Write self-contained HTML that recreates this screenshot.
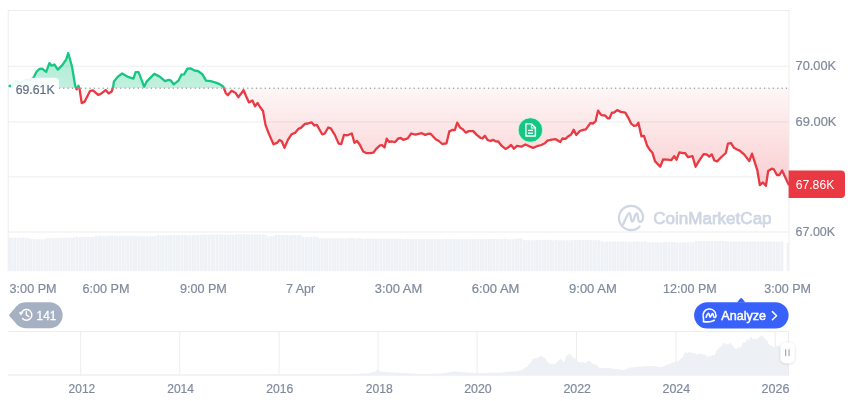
<!DOCTYPE html>
<html><head><meta charset="utf-8"><style>
html,body{margin:0;padding:0;background:#fff;width:860px;height:401px;overflow:hidden}
svg{position:absolute;left:0;top:0;will-change:transform}
text{font-family:"Liberation Sans", sans-serif}
</style></head><body>
<svg width="860" height="401" viewBox="0 0 860 401">
<defs>
<linearGradient id="gg" gradientUnits="userSpaceOnUse" x1="0" y1="50" x2="0" y2="88.2">
<stop offset="0" stop-color="#16c784" stop-opacity="0.36"/>
<stop offset="1" stop-color="#16c784" stop-opacity="0.26"/>
</linearGradient>
<linearGradient id="rg" gradientUnits="userSpaceOnUse" x1="0" y1="88.2" x2="0" y2="186">
<stop offset="0" stop-color="#ea3943" stop-opacity="0.045"/>
<stop offset="1" stop-color="#ea3943" stop-opacity="0.25"/>
</linearGradient>
<clipPath id="above"><rect x="0" y="0" width="860" height="88.2"/></clipPath>
<clipPath id="below"><rect x="0" y="88.2" width="860" height="300"/></clipPath>
</defs>
<!-- grid -->
<g fill="#ededee">
<rect x="8" y="10" width="781" height="1"/>
<rect x="7.7" y="10" width="1" height="261"/>
<rect x="788.5" y="10" width="1" height="261"/>
<rect x="8" y="65.7" width="781" height="1"/>
<rect x="8" y="121.4" width="781" height="1"/>
<rect x="8" y="176.4" width="781" height="1"/>
<rect x="8" y="231.5" width="781" height="1"/>
</g>
<!-- volume -->
<g fill="#eef1f5">
<rect x="8.60" y="237.64" width="2.4" height="33.56"/>
<rect x="11.29" y="237.83" width="2.4" height="33.37"/>
<rect x="13.98" y="237.72" width="2.4" height="33.48"/>
<rect x="16.67" y="237.86" width="2.4" height="33.34"/>
<rect x="19.36" y="237.88" width="2.4" height="33.32"/>
<rect x="22.05" y="237.54" width="2.4" height="33.66"/>
<rect x="24.75" y="237.51" width="2.4" height="33.69"/>
<rect x="27.44" y="238.00" width="2.4" height="33.20"/>
<rect x="30.13" y="239.06" width="2.4" height="32.14"/>
<rect x="32.82" y="239.04" width="2.4" height="32.16"/>
<rect x="35.51" y="239.50" width="2.4" height="31.70"/>
<rect x="38.20" y="239.18" width="2.4" height="32.02"/>
<rect x="40.89" y="239.40" width="2.4" height="31.80"/>
<rect x="43.58" y="239.19" width="2.4" height="32.01"/>
<rect x="46.27" y="238.28" width="2.4" height="32.92"/>
<rect x="48.96" y="237.99" width="2.4" height="33.21"/>
<rect x="51.66" y="238.28" width="2.4" height="32.92"/>
<rect x="54.35" y="238.02" width="2.4" height="33.18"/>
<rect x="57.04" y="237.81" width="2.4" height="33.39"/>
<rect x="59.73" y="237.94" width="2.4" height="33.26"/>
<rect x="62.42" y="237.90" width="2.4" height="33.30"/>
<rect x="65.11" y="237.54" width="2.4" height="33.66"/>
<rect x="67.80" y="237.95" width="2.4" height="33.25"/>
<rect x="70.49" y="237.85" width="2.4" height="33.35"/>
<rect x="73.18" y="236.68" width="2.4" height="34.52"/>
<rect x="75.87" y="236.52" width="2.4" height="34.68"/>
<rect x="78.57" y="237.02" width="2.4" height="34.18"/>
<rect x="81.26" y="236.78" width="2.4" height="34.42"/>
<rect x="83.95" y="236.93" width="2.4" height="34.27"/>
<rect x="86.64" y="237.03" width="2.4" height="34.17"/>
<rect x="89.33" y="236.93" width="2.4" height="34.27"/>
<rect x="92.02" y="237.05" width="2.4" height="34.15"/>
<rect x="94.71" y="235.84" width="2.4" height="35.36"/>
<rect x="97.40" y="236.08" width="2.4" height="35.12"/>
<rect x="100.09" y="235.87" width="2.4" height="35.33"/>
<rect x="102.78" y="236.16" width="2.4" height="35.04"/>
<rect x="105.47" y="236.13" width="2.4" height="35.07"/>
<rect x="108.17" y="235.66" width="2.4" height="35.54"/>
<rect x="110.86" y="235.68" width="2.4" height="35.52"/>
<rect x="113.55" y="235.73" width="2.4" height="35.47"/>
<rect x="116.24" y="236.18" width="2.4" height="35.02"/>
<rect x="118.93" y="235.86" width="2.4" height="35.34"/>
<rect x="121.62" y="235.98" width="2.4" height="35.22"/>
<rect x="124.31" y="235.78" width="2.4" height="35.42"/>
<rect x="127.00" y="235.90" width="2.4" height="35.30"/>
<rect x="129.69" y="235.83" width="2.4" height="35.37"/>
<rect x="132.38" y="235.81" width="2.4" height="35.39"/>
<rect x="135.08" y="235.95" width="2.4" height="35.25"/>
<rect x="137.77" y="235.95" width="2.4" height="35.25"/>
<rect x="140.46" y="236.14" width="2.4" height="35.06"/>
<rect x="143.15" y="236.01" width="2.4" height="35.19"/>
<rect x="145.84" y="236.16" width="2.4" height="35.04"/>
<rect x="148.53" y="236.11" width="2.4" height="35.09"/>
<rect x="151.22" y="236.19" width="2.4" height="35.01"/>
<rect x="153.91" y="236.00" width="2.4" height="35.20"/>
<rect x="156.60" y="234.80" width="2.4" height="36.40"/>
<rect x="159.29" y="235.22" width="2.4" height="35.98"/>
<rect x="161.99" y="235.28" width="2.4" height="35.92"/>
<rect x="164.68" y="235.24" width="2.4" height="35.96"/>
<rect x="167.37" y="235.04" width="2.4" height="36.16"/>
<rect x="170.06" y="235.13" width="2.4" height="36.07"/>
<rect x="172.75" y="234.83" width="2.4" height="36.37"/>
<rect x="175.44" y="235.20" width="2.4" height="36.00"/>
<rect x="178.13" y="235.04" width="2.4" height="36.16"/>
<rect x="180.82" y="234.87" width="2.4" height="36.33"/>
<rect x="183.51" y="234.74" width="2.4" height="36.46"/>
<rect x="186.20" y="235.21" width="2.4" height="35.99"/>
<rect x="188.90" y="235.29" width="2.4" height="35.91"/>
<rect x="191.59" y="234.75" width="2.4" height="36.45"/>
<rect x="194.28" y="235.18" width="2.4" height="36.02"/>
<rect x="196.97" y="234.95" width="2.4" height="36.25"/>
<rect x="199.66" y="234.79" width="2.4" height="36.41"/>
<rect x="202.35" y="234.38" width="2.4" height="36.82"/>
<rect x="205.04" y="234.66" width="2.4" height="36.54"/>
<rect x="207.73" y="234.72" width="2.4" height="36.48"/>
<rect x="210.42" y="234.23" width="2.4" height="36.97"/>
<rect x="213.11" y="234.57" width="2.4" height="36.63"/>
<rect x="215.80" y="234.23" width="2.4" height="36.97"/>
<rect x="218.50" y="234.63" width="2.4" height="36.57"/>
<rect x="221.19" y="234.40" width="2.4" height="36.80"/>
<rect x="223.88" y="234.73" width="2.4" height="36.47"/>
<rect x="226.57" y="234.79" width="2.4" height="36.41"/>
<rect x="229.26" y="234.50" width="2.4" height="36.70"/>
<rect x="231.95" y="234.80" width="2.4" height="36.40"/>
<rect x="234.64" y="234.39" width="2.4" height="36.81"/>
<rect x="237.33" y="234.25" width="2.4" height="36.95"/>
<rect x="240.02" y="234.56" width="2.4" height="36.64"/>
<rect x="242.71" y="234.22" width="2.4" height="36.98"/>
<rect x="245.41" y="234.32" width="2.4" height="36.88"/>
<rect x="248.10" y="234.44" width="2.4" height="36.76"/>
<rect x="250.79" y="234.57" width="2.4" height="36.63"/>
<rect x="253.48" y="234.29" width="2.4" height="36.91"/>
<rect x="256.17" y="234.23" width="2.4" height="36.97"/>
<rect x="258.86" y="234.72" width="2.4" height="36.48"/>
<rect x="261.55" y="234.39" width="2.4" height="36.81"/>
<rect x="264.24" y="234.78" width="2.4" height="36.42"/>
<rect x="266.93" y="236.34" width="2.4" height="34.86"/>
<rect x="269.62" y="236.03" width="2.4" height="35.17"/>
<rect x="272.32" y="236.08" width="2.4" height="35.12"/>
<rect x="275.01" y="235.01" width="2.4" height="36.19"/>
<rect x="277.70" y="235.09" width="2.4" height="36.11"/>
<rect x="280.39" y="235.06" width="2.4" height="36.14"/>
<rect x="283.08" y="235.04" width="2.4" height="36.16"/>
<rect x="285.77" y="235.07" width="2.4" height="36.13"/>
<rect x="288.46" y="235.26" width="2.4" height="35.94"/>
<rect x="291.15" y="235.00" width="2.4" height="36.20"/>
<rect x="293.84" y="234.96" width="2.4" height="36.24"/>
<rect x="296.53" y="235.13" width="2.4" height="36.07"/>
<rect x="299.23" y="234.84" width="2.4" height="36.36"/>
<rect x="301.92" y="236.68" width="2.4" height="34.52"/>
<rect x="304.61" y="237.09" width="2.4" height="34.11"/>
<rect x="307.30" y="236.81" width="2.4" height="34.39"/>
<rect x="309.99" y="236.83" width="2.4" height="34.37"/>
<rect x="312.68" y="236.51" width="2.4" height="34.69"/>
<rect x="315.37" y="236.75" width="2.4" height="34.45"/>
<rect x="318.06" y="238.25" width="2.4" height="32.95"/>
<rect x="320.75" y="237.91" width="2.4" height="33.29"/>
<rect x="323.44" y="238.27" width="2.4" height="32.93"/>
<rect x="326.13" y="238.28" width="2.4" height="32.92"/>
<rect x="328.83" y="237.94" width="2.4" height="33.26"/>
<rect x="331.52" y="238.28" width="2.4" height="32.92"/>
<rect x="334.21" y="238.18" width="2.4" height="33.02"/>
<rect x="336.90" y="238.31" width="2.4" height="32.89"/>
<rect x="339.59" y="238.11" width="2.4" height="33.09"/>
<rect x="342.28" y="238.32" width="2.4" height="32.88"/>
<rect x="344.97" y="238.34" width="2.4" height="32.86"/>
<rect x="347.66" y="237.91" width="2.4" height="33.29"/>
<rect x="350.35" y="237.94" width="2.4" height="33.26"/>
<rect x="353.04" y="238.31" width="2.4" height="32.89"/>
<rect x="355.74" y="238.48" width="2.4" height="32.72"/>
<rect x="358.43" y="238.05" width="2.4" height="33.15"/>
<rect x="361.12" y="238.67" width="2.4" height="32.53"/>
<rect x="363.81" y="238.76" width="2.4" height="32.44"/>
<rect x="366.50" y="238.59" width="2.4" height="32.61"/>
<rect x="369.19" y="238.62" width="2.4" height="32.58"/>
<rect x="371.88" y="238.59" width="2.4" height="32.61"/>
<rect x="374.57" y="238.62" width="2.4" height="32.58"/>
<rect x="377.26" y="238.76" width="2.4" height="32.44"/>
<rect x="379.95" y="238.58" width="2.4" height="32.62"/>
<rect x="382.65" y="238.63" width="2.4" height="32.57"/>
<rect x="385.34" y="238.86" width="2.4" height="32.34"/>
<rect x="388.03" y="238.42" width="2.4" height="32.78"/>
<rect x="390.72" y="238.74" width="2.4" height="32.46"/>
<rect x="393.41" y="238.84" width="2.4" height="32.36"/>
<rect x="396.10" y="238.59" width="2.4" height="32.61"/>
<rect x="398.79" y="238.53" width="2.4" height="32.67"/>
<rect x="401.48" y="239.18" width="2.4" height="32.02"/>
<rect x="404.17" y="238.84" width="2.4" height="32.36"/>
<rect x="406.86" y="238.81" width="2.4" height="32.39"/>
<rect x="409.55" y="238.96" width="2.4" height="32.24"/>
<rect x="412.25" y="239.12" width="2.4" height="32.08"/>
<rect x="414.94" y="238.76" width="2.4" height="32.44"/>
<rect x="417.63" y="238.89" width="2.4" height="32.31"/>
<rect x="420.32" y="238.90" width="2.4" height="32.30"/>
<rect x="423.01" y="239.20" width="2.4" height="32.00"/>
<rect x="425.70" y="238.96" width="2.4" height="32.24"/>
<rect x="428.39" y="239.21" width="2.4" height="31.99"/>
<rect x="431.08" y="238.80" width="2.4" height="32.40"/>
<rect x="433.77" y="238.90" width="2.4" height="32.30"/>
<rect x="436.46" y="239.09" width="2.4" height="32.11"/>
<rect x="439.16" y="239.23" width="2.4" height="31.97"/>
<rect x="441.85" y="238.97" width="2.4" height="32.23"/>
<rect x="444.54" y="238.84" width="2.4" height="32.36"/>
<rect x="447.23" y="238.77" width="2.4" height="32.43"/>
<rect x="449.92" y="239.02" width="2.4" height="32.18"/>
<rect x="452.61" y="238.81" width="2.4" height="32.39"/>
<rect x="455.30" y="239.18" width="2.4" height="32.02"/>
<rect x="457.99" y="239.20" width="2.4" height="32.00"/>
<rect x="460.68" y="238.81" width="2.4" height="32.39"/>
<rect x="463.37" y="238.87" width="2.4" height="32.33"/>
<rect x="466.07" y="239.18" width="2.4" height="32.02"/>
<rect x="468.76" y="239.09" width="2.4" height="32.11"/>
<rect x="471.45" y="239.18" width="2.4" height="32.02"/>
<rect x="474.14" y="238.91" width="2.4" height="32.29"/>
<rect x="476.83" y="238.78" width="2.4" height="32.42"/>
<rect x="479.52" y="238.88" width="2.4" height="32.32"/>
<rect x="482.21" y="239.18" width="2.4" height="32.02"/>
<rect x="484.90" y="238.86" width="2.4" height="32.34"/>
<rect x="487.59" y="238.91" width="2.4" height="32.29"/>
<rect x="490.28" y="238.95" width="2.4" height="32.25"/>
<rect x="492.98" y="238.95" width="2.4" height="32.25"/>
<rect x="495.67" y="238.95" width="2.4" height="32.25"/>
<rect x="498.36" y="239.25" width="2.4" height="31.95"/>
<rect x="501.05" y="238.79" width="2.4" height="32.41"/>
<rect x="503.74" y="238.70" width="2.4" height="32.50"/>
<rect x="506.43" y="239.27" width="2.4" height="31.93"/>
<rect x="509.12" y="239.23" width="2.4" height="31.97"/>
<rect x="511.81" y="239.29" width="2.4" height="31.91"/>
<rect x="514.50" y="238.96" width="2.4" height="32.24"/>
<rect x="517.19" y="238.27" width="2.4" height="32.93"/>
<rect x="519.88" y="238.26" width="2.4" height="32.94"/>
<rect x="522.58" y="239.93" width="2.4" height="31.27"/>
<rect x="525.27" y="240.25" width="2.4" height="30.95"/>
<rect x="527.96" y="240.30" width="2.4" height="30.90"/>
<rect x="530.65" y="240.20" width="2.4" height="31.00"/>
<rect x="533.34" y="240.11" width="2.4" height="31.09"/>
<rect x="536.03" y="239.97" width="2.4" height="31.23"/>
<rect x="538.72" y="240.00" width="2.4" height="31.20"/>
<rect x="541.41" y="239.94" width="2.4" height="31.26"/>
<rect x="544.10" y="239.84" width="2.4" height="31.36"/>
<rect x="546.79" y="240.15" width="2.4" height="31.05"/>
<rect x="549.49" y="239.97" width="2.4" height="31.23"/>
<rect x="552.18" y="240.29" width="2.4" height="30.91"/>
<rect x="554.87" y="239.83" width="2.4" height="31.37"/>
<rect x="557.56" y="240.34" width="2.4" height="30.86"/>
<rect x="560.25" y="240.22" width="2.4" height="30.98"/>
<rect x="562.94" y="240.35" width="2.4" height="30.85"/>
<rect x="565.63" y="240.34" width="2.4" height="30.86"/>
<rect x="568.32" y="240.34" width="2.4" height="30.86"/>
<rect x="571.01" y="240.15" width="2.4" height="31.05"/>
<rect x="573.70" y="239.81" width="2.4" height="31.39"/>
<rect x="576.40" y="240.25" width="2.4" height="30.95"/>
<rect x="579.09" y="239.90" width="2.4" height="31.30"/>
<rect x="581.78" y="239.98" width="2.4" height="31.22"/>
<rect x="584.47" y="240.20" width="2.4" height="31.00"/>
<rect x="587.16" y="240.11" width="2.4" height="31.09"/>
<rect x="589.85" y="240.05" width="2.4" height="31.15"/>
<rect x="592.54" y="240.36" width="2.4" height="30.84"/>
<rect x="595.23" y="240.17" width="2.4" height="31.03"/>
<rect x="597.92" y="240.00" width="2.4" height="31.20"/>
<rect x="600.61" y="241.35" width="2.4" height="29.85"/>
<rect x="603.30" y="241.72" width="2.4" height="29.48"/>
<rect x="606.00" y="241.49" width="2.4" height="29.71"/>
<rect x="608.69" y="241.67" width="2.4" height="29.53"/>
<rect x="611.38" y="241.41" width="2.4" height="29.79"/>
<rect x="614.07" y="241.32" width="2.4" height="29.88"/>
<rect x="616.76" y="241.52" width="2.4" height="29.68"/>
<rect x="619.45" y="241.69" width="2.4" height="29.51"/>
<rect x="622.14" y="241.30" width="2.4" height="29.90"/>
<rect x="624.83" y="241.68" width="2.4" height="29.52"/>
<rect x="627.52" y="241.75" width="2.4" height="29.45"/>
<rect x="630.21" y="241.68" width="2.4" height="29.52"/>
<rect x="632.91" y="241.69" width="2.4" height="29.51"/>
<rect x="635.60" y="241.20" width="2.4" height="30.00"/>
<rect x="638.29" y="241.58" width="2.4" height="29.62"/>
<rect x="640.98" y="241.72" width="2.4" height="29.48"/>
<rect x="643.67" y="241.23" width="2.4" height="29.97"/>
<rect x="646.36" y="242.26" width="2.4" height="28.94"/>
<rect x="649.05" y="242.26" width="2.4" height="28.94"/>
<rect x="651.74" y="242.42" width="2.4" height="28.78"/>
<rect x="654.43" y="242.35" width="2.4" height="28.85"/>
<rect x="657.12" y="242.38" width="2.4" height="28.82"/>
<rect x="659.82" y="242.57" width="2.4" height="28.63"/>
<rect x="662.51" y="242.10" width="2.4" height="29.10"/>
<rect x="665.20" y="242.13" width="2.4" height="29.07"/>
<rect x="667.89" y="242.18" width="2.4" height="29.02"/>
<rect x="670.58" y="242.17" width="2.4" height="29.03"/>
<rect x="673.27" y="242.14" width="2.4" height="29.06"/>
<rect x="675.96" y="242.68" width="2.4" height="28.52"/>
<rect x="678.65" y="242.61" width="2.4" height="28.59"/>
<rect x="681.34" y="242.15" width="2.4" height="29.05"/>
<rect x="684.03" y="242.40" width="2.4" height="28.80"/>
<rect x="686.73" y="242.29" width="2.4" height="28.91"/>
<rect x="689.42" y="242.29" width="2.4" height="28.91"/>
<rect x="692.11" y="242.31" width="2.4" height="28.89"/>
<rect x="694.80" y="241.09" width="2.4" height="30.11"/>
<rect x="697.49" y="241.05" width="2.4" height="30.15"/>
<rect x="700.18" y="240.92" width="2.4" height="30.28"/>
<rect x="702.87" y="240.81" width="2.4" height="30.39"/>
<rect x="705.56" y="240.90" width="2.4" height="30.30"/>
<rect x="708.25" y="240.77" width="2.4" height="30.43"/>
<rect x="710.94" y="241.03" width="2.4" height="30.17"/>
<rect x="713.63" y="241.13" width="2.4" height="30.07"/>
<rect x="716.33" y="240.93" width="2.4" height="30.27"/>
<rect x="719.02" y="240.75" width="2.4" height="30.45"/>
<rect x="721.71" y="240.81" width="2.4" height="30.39"/>
<rect x="724.40" y="240.92" width="2.4" height="30.28"/>
<rect x="727.09" y="241.56" width="2.4" height="29.64"/>
<rect x="729.78" y="241.67" width="2.4" height="29.53"/>
<rect x="732.47" y="241.43" width="2.4" height="29.77"/>
<rect x="735.16" y="241.68" width="2.4" height="29.52"/>
<rect x="737.85" y="241.57" width="2.4" height="29.63"/>
<rect x="740.54" y="241.46" width="2.4" height="29.74"/>
<rect x="743.24" y="241.42" width="2.4" height="29.78"/>
<rect x="745.93" y="241.50" width="2.4" height="29.70"/>
<rect x="748.62" y="241.62" width="2.4" height="29.58"/>
<rect x="751.31" y="241.45" width="2.4" height="29.75"/>
<rect x="754.00" y="241.62" width="2.4" height="29.58"/>
<rect x="756.69" y="241.48" width="2.4" height="29.72"/>
<rect x="759.38" y="241.35" width="2.4" height="29.85"/>
<rect x="762.07" y="241.52" width="2.4" height="29.68"/>
<rect x="764.76" y="241.62" width="2.4" height="29.58"/>
<rect x="767.45" y="241.24" width="2.4" height="29.96"/>
<rect x="770.15" y="241.45" width="2.4" height="29.75"/>
<rect x="772.84" y="241.46" width="2.4" height="29.74"/>
<rect x="775.53" y="241.73" width="2.4" height="29.47"/>
<rect x="778.22" y="241.76" width="2.4" height="29.44"/>
<rect x="780.91" y="241.42" width="2.4" height="29.78"/>
<rect x="786.6" y="243" width="2" height="28.2"/>
</g>
<!-- areas -->
<path d="M9.6,86.0 L11.5,85.6 L16.4,81.2 L20.3,83.2 L24.1,81.0 L26.8,79.6 L29.6,80.4 L32.9,78.2 L33.7,77.4 L36.5,71.8 L39.3,69.0 L42.1,68.7 L46.2,71.8 L49.4,63.1 L51.6,65.7 L54.4,64.5 L57.8,69.6 L62.3,65.1 L66.2,59.5 L68.2,53.0 L72.0,66.5 L75.2,86.0 L76.6,89.4 L78.4,85.8 L79.5,88.4 L81.7,103.1 L84.7,101.6 L89.9,91.2 L92.9,90.4 L98.2,94.9 L100.4,94.2 L105.7,90.1 L108.7,93.4 L111.6,91.6 L113.1,87.4 L113.9,81.4 L117.6,76.9 L122.1,73.5 L128.1,76.9 L133.4,78.7 L135.6,72.2 L138.6,72.2 L144.1,86.7 L146.8,81.4 L154.3,73.9 L159.7,76.6 L165.0,81.1 L168.7,79.9 L171.0,80.7 L173.7,84.4 L178.4,80.7 L181.4,74.7 L184.1,74.3 L187.4,68.7 L190.4,68.3 L194.9,70.7 L197.9,71.0 L202.4,74.3 L206.1,80.7 L210.6,81.1 L215.9,82.6 L219.6,84.1 L223.4,86.7 L225.6,92.7 L227.8,95.2 L231.6,90.7 L235.3,92.7 L238.3,97.2 L243.6,90.2 L246.0,96.0 L249.0,102.4 L252.4,100.4 L255.0,106.3 L257.6,103.0 L260.0,107.0 L263.0,111.0 L265.5,124.9 L268.9,133.9 L273.5,144.3 L276.9,142.9 L279.5,139.9 L281.9,141.5 L284.5,147.9 L287.9,139.9 L291.5,134.3 L294.9,132.9 L298.3,128.9 L300.9,127.9 L304.9,123.9 L307.9,123.5 L311.5,122.3 L314.3,125.5 L316.8,124.9 L322.2,134.3 L324.8,133.5 L328.2,127.5 L330.8,128.3 L334.8,134.9 L338.7,143.6 L341.3,144.0 L344.0,134.9 L347.5,135.3 L351.8,133.5 L354.4,142.8 L357.0,141.0 L359.7,144.5 L363.2,151.5 L366.6,153.2 L370.1,153.2 L373.3,152.7 L376.2,148.9 L379.7,145.7 L382.0,145.0 L384.5,147.5 L386.7,138.7 L389.3,141.9 L392.0,141.5 L394.9,142.2 L398.4,138.4 L400.7,138.0 L403.3,139.8 L407.7,138.4 L411.2,133.5 L415.5,134.6 L421.6,133.2 L425.3,134.9 L428.4,133.7 L430.8,134.0 L435.7,139.3 L438.8,141.0 L442.3,144.0 L446.5,143.3 L449.3,131.4 L452.3,130.0 L454.9,130.0 L457.2,122.7 L460.1,127.6 L462.8,129.3 L465.7,132.6 L468.9,131.1 L473.2,131.1 L476.7,134.9 L480.7,138.0 L482.5,138.4 L484.9,135.8 L487.7,140.1 L490.7,141.0 L493.0,139.8 L495.9,141.4 L498.2,141.5 L502.0,146.2 L505.5,148.9 L508.1,147.5 L511.1,145.0 L514.0,148.7 L517.0,145.8 L521.3,146.7 L525.4,144.5 L529.2,146.2 L533.0,147.9 L537.0,146.2 L541.4,145.0 L544.9,143.2 L547.5,140.6 L551.9,139.7 L555.7,139.2 L560.3,142.0 L562.4,138.5 L565.5,138.9 L568.5,136.2 L571.1,134.5 L573.7,129.8 L576.3,135.0 L579.8,131.0 L583.3,129.8 L585.9,129.3 L590.3,123.2 L592.9,123.5 L595.5,121.4 L598.1,110.6 L600.7,114.4 L602.6,115.4 L604.9,115.4 L607.9,118.3 L609.6,118.3 L611.9,112.6 L614.0,112.6 L617.1,110.1 L620.9,111.9 L625.3,112.6 L627.9,117.1 L631.1,123.6 L634.0,125.8 L636.6,125.3 L638.4,122.7 L641.4,136.3 L644.0,135.8 L647.1,145.7 L649.7,149.7 L652.4,152.7 L655.0,161.1 L660.2,166.7 L663.2,159.3 L667.2,159.7 L671.2,160.2 L674.2,156.2 L676.4,159.7 L679.4,152.4 L682.9,153.2 L685.2,153.2 L688.1,157.2 L692.5,156.2 L695.6,166.8 L698.7,161.4 L703.6,154.1 L706.6,154.4 L709.2,156.5 L711.8,154.4 L714.4,160.5 L717.1,161.4 L721.4,157.0 L725.8,153.0 L728.0,143.6 L731.0,143.1 L734.0,147.8 L737.1,149.5 L739.7,150.6 L744.1,154.4 L749.3,161.1 L752.0,153.6 L757.2,169.8 L759.8,185.0 L762.9,182.4 L765.9,185.8 L768.2,171.0 L771.7,168.7 L773.8,169.3 L776.9,175.0 L779.4,175.0 L782.1,170.5 L788.6,184.4 L788.6,88.2 L9.6,88.2 Z" fill="url(#gg)" clip-path="url(#above)"/>
<path d="M9.6,86.0 L11.5,85.6 L16.4,81.2 L20.3,83.2 L24.1,81.0 L26.8,79.6 L29.6,80.4 L32.9,78.2 L33.7,77.4 L36.5,71.8 L39.3,69.0 L42.1,68.7 L46.2,71.8 L49.4,63.1 L51.6,65.7 L54.4,64.5 L57.8,69.6 L62.3,65.1 L66.2,59.5 L68.2,53.0 L72.0,66.5 L75.2,86.0 L76.6,89.4 L78.4,85.8 L79.5,88.4 L81.7,103.1 L84.7,101.6 L89.9,91.2 L92.9,90.4 L98.2,94.9 L100.4,94.2 L105.7,90.1 L108.7,93.4 L111.6,91.6 L113.1,87.4 L113.9,81.4 L117.6,76.9 L122.1,73.5 L128.1,76.9 L133.4,78.7 L135.6,72.2 L138.6,72.2 L144.1,86.7 L146.8,81.4 L154.3,73.9 L159.7,76.6 L165.0,81.1 L168.7,79.9 L171.0,80.7 L173.7,84.4 L178.4,80.7 L181.4,74.7 L184.1,74.3 L187.4,68.7 L190.4,68.3 L194.9,70.7 L197.9,71.0 L202.4,74.3 L206.1,80.7 L210.6,81.1 L215.9,82.6 L219.6,84.1 L223.4,86.7 L225.6,92.7 L227.8,95.2 L231.6,90.7 L235.3,92.7 L238.3,97.2 L243.6,90.2 L246.0,96.0 L249.0,102.4 L252.4,100.4 L255.0,106.3 L257.6,103.0 L260.0,107.0 L263.0,111.0 L265.5,124.9 L268.9,133.9 L273.5,144.3 L276.9,142.9 L279.5,139.9 L281.9,141.5 L284.5,147.9 L287.9,139.9 L291.5,134.3 L294.9,132.9 L298.3,128.9 L300.9,127.9 L304.9,123.9 L307.9,123.5 L311.5,122.3 L314.3,125.5 L316.8,124.9 L322.2,134.3 L324.8,133.5 L328.2,127.5 L330.8,128.3 L334.8,134.9 L338.7,143.6 L341.3,144.0 L344.0,134.9 L347.5,135.3 L351.8,133.5 L354.4,142.8 L357.0,141.0 L359.7,144.5 L363.2,151.5 L366.6,153.2 L370.1,153.2 L373.3,152.7 L376.2,148.9 L379.7,145.7 L382.0,145.0 L384.5,147.5 L386.7,138.7 L389.3,141.9 L392.0,141.5 L394.9,142.2 L398.4,138.4 L400.7,138.0 L403.3,139.8 L407.7,138.4 L411.2,133.5 L415.5,134.6 L421.6,133.2 L425.3,134.9 L428.4,133.7 L430.8,134.0 L435.7,139.3 L438.8,141.0 L442.3,144.0 L446.5,143.3 L449.3,131.4 L452.3,130.0 L454.9,130.0 L457.2,122.7 L460.1,127.6 L462.8,129.3 L465.7,132.6 L468.9,131.1 L473.2,131.1 L476.7,134.9 L480.7,138.0 L482.5,138.4 L484.9,135.8 L487.7,140.1 L490.7,141.0 L493.0,139.8 L495.9,141.4 L498.2,141.5 L502.0,146.2 L505.5,148.9 L508.1,147.5 L511.1,145.0 L514.0,148.7 L517.0,145.8 L521.3,146.7 L525.4,144.5 L529.2,146.2 L533.0,147.9 L537.0,146.2 L541.4,145.0 L544.9,143.2 L547.5,140.6 L551.9,139.7 L555.7,139.2 L560.3,142.0 L562.4,138.5 L565.5,138.9 L568.5,136.2 L571.1,134.5 L573.7,129.8 L576.3,135.0 L579.8,131.0 L583.3,129.8 L585.9,129.3 L590.3,123.2 L592.9,123.5 L595.5,121.4 L598.1,110.6 L600.7,114.4 L602.6,115.4 L604.9,115.4 L607.9,118.3 L609.6,118.3 L611.9,112.6 L614.0,112.6 L617.1,110.1 L620.9,111.9 L625.3,112.6 L627.9,117.1 L631.1,123.6 L634.0,125.8 L636.6,125.3 L638.4,122.7 L641.4,136.3 L644.0,135.8 L647.1,145.7 L649.7,149.7 L652.4,152.7 L655.0,161.1 L660.2,166.7 L663.2,159.3 L667.2,159.7 L671.2,160.2 L674.2,156.2 L676.4,159.7 L679.4,152.4 L682.9,153.2 L685.2,153.2 L688.1,157.2 L692.5,156.2 L695.6,166.8 L698.7,161.4 L703.6,154.1 L706.6,154.4 L709.2,156.5 L711.8,154.4 L714.4,160.5 L717.1,161.4 L721.4,157.0 L725.8,153.0 L728.0,143.6 L731.0,143.1 L734.0,147.8 L737.1,149.5 L739.7,150.6 L744.1,154.4 L749.3,161.1 L752.0,153.6 L757.2,169.8 L759.8,185.0 L762.9,182.4 L765.9,185.8 L768.2,171.0 L771.7,168.7 L773.8,169.3 L776.9,175.0 L779.4,175.0 L782.1,170.5 L788.6,184.4 L788.6,88.2 L9.6,88.2 Z" fill="url(#rg)" clip-path="url(#below)"/>
<g fill="#8f949c"><rect x="58.81" y="87.60" width="1.2" height="1.2"/><rect x="63.19" y="87.60" width="1.2" height="1.2"/><rect x="67.57" y="87.60" width="1.2" height="1.2"/><rect x="71.95" y="87.60" width="1.2" height="1.2"/><rect x="76.33" y="87.60" width="1.2" height="1.2"/><rect x="80.71" y="87.60" width="1.2" height="1.2"/><rect x="85.09" y="87.60" width="1.2" height="1.2"/><rect x="89.47" y="87.60" width="1.2" height="1.2"/><rect x="93.85" y="87.60" width="1.2" height="1.2"/><rect x="98.23" y="87.60" width="1.2" height="1.2"/><rect x="102.61" y="87.60" width="1.2" height="1.2"/><rect x="106.99" y="87.60" width="1.2" height="1.2"/><rect x="111.37" y="87.60" width="1.2" height="1.2"/><rect x="115.75" y="87.60" width="1.2" height="1.2"/><rect x="120.13" y="87.60" width="1.2" height="1.2"/><rect x="124.51" y="87.60" width="1.2" height="1.2"/><rect x="128.89" y="87.60" width="1.2" height="1.2"/><rect x="133.27" y="87.60" width="1.2" height="1.2"/><rect x="137.65" y="87.60" width="1.2" height="1.2"/><rect x="142.03" y="87.60" width="1.2" height="1.2"/><rect x="146.41" y="87.60" width="1.2" height="1.2"/><rect x="150.79" y="87.60" width="1.2" height="1.2"/><rect x="155.17" y="87.60" width="1.2" height="1.2"/><rect x="159.55" y="87.60" width="1.2" height="1.2"/><rect x="163.93" y="87.60" width="1.2" height="1.2"/><rect x="168.31" y="87.60" width="1.2" height="1.2"/><rect x="172.69" y="87.60" width="1.2" height="1.2"/><rect x="177.07" y="87.60" width="1.2" height="1.2"/><rect x="181.45" y="87.60" width="1.2" height="1.2"/><rect x="185.83" y="87.60" width="1.2" height="1.2"/><rect x="190.21" y="87.60" width="1.2" height="1.2"/><rect x="194.59" y="87.60" width="1.2" height="1.2"/><rect x="198.97" y="87.60" width="1.2" height="1.2"/><rect x="203.35" y="87.60" width="1.2" height="1.2"/><rect x="207.73" y="87.60" width="1.2" height="1.2"/><rect x="212.11" y="87.60" width="1.2" height="1.2"/><rect x="216.49" y="87.60" width="1.2" height="1.2"/><rect x="220.87" y="87.60" width="1.2" height="1.2"/><rect x="225.25" y="87.60" width="1.2" height="1.2"/><rect x="229.63" y="87.60" width="1.2" height="1.2"/><rect x="234.01" y="87.60" width="1.2" height="1.2"/><rect x="238.39" y="87.60" width="1.2" height="1.2"/><rect x="242.77" y="87.60" width="1.2" height="1.2"/><rect x="247.15" y="87.60" width="1.2" height="1.2"/><rect x="251.53" y="87.60" width="1.2" height="1.2"/><rect x="255.91" y="87.60" width="1.2" height="1.2"/><rect x="260.29" y="87.60" width="1.2" height="1.2"/><rect x="264.67" y="87.60" width="1.2" height="1.2"/><rect x="269.05" y="87.60" width="1.2" height="1.2"/><rect x="273.43" y="87.60" width="1.2" height="1.2"/><rect x="277.81" y="87.60" width="1.2" height="1.2"/><rect x="282.19" y="87.60" width="1.2" height="1.2"/><rect x="286.57" y="87.60" width="1.2" height="1.2"/><rect x="290.95" y="87.60" width="1.2" height="1.2"/><rect x="295.33" y="87.60" width="1.2" height="1.2"/><rect x="299.71" y="87.60" width="1.2" height="1.2"/><rect x="304.09" y="87.60" width="1.2" height="1.2"/><rect x="308.47" y="87.60" width="1.2" height="1.2"/><rect x="312.85" y="87.60" width="1.2" height="1.2"/><rect x="317.23" y="87.60" width="1.2" height="1.2"/><rect x="321.61" y="87.60" width="1.2" height="1.2"/><rect x="325.99" y="87.60" width="1.2" height="1.2"/><rect x="330.37" y="87.60" width="1.2" height="1.2"/><rect x="334.75" y="87.60" width="1.2" height="1.2"/><rect x="339.13" y="87.60" width="1.2" height="1.2"/><rect x="343.51" y="87.60" width="1.2" height="1.2"/><rect x="347.89" y="87.60" width="1.2" height="1.2"/><rect x="352.27" y="87.60" width="1.2" height="1.2"/><rect x="356.65" y="87.60" width="1.2" height="1.2"/><rect x="361.03" y="87.60" width="1.2" height="1.2"/><rect x="365.41" y="87.60" width="1.2" height="1.2"/><rect x="369.79" y="87.60" width="1.2" height="1.2"/><rect x="374.17" y="87.60" width="1.2" height="1.2"/><rect x="378.55" y="87.60" width="1.2" height="1.2"/><rect x="382.93" y="87.60" width="1.2" height="1.2"/><rect x="387.31" y="87.60" width="1.2" height="1.2"/><rect x="391.69" y="87.60" width="1.2" height="1.2"/><rect x="396.07" y="87.60" width="1.2" height="1.2"/><rect x="400.45" y="87.60" width="1.2" height="1.2"/><rect x="404.83" y="87.60" width="1.2" height="1.2"/><rect x="409.21" y="87.60" width="1.2" height="1.2"/><rect x="413.59" y="87.60" width="1.2" height="1.2"/><rect x="417.97" y="87.60" width="1.2" height="1.2"/><rect x="422.35" y="87.60" width="1.2" height="1.2"/><rect x="426.73" y="87.60" width="1.2" height="1.2"/><rect x="431.11" y="87.60" width="1.2" height="1.2"/><rect x="435.49" y="87.60" width="1.2" height="1.2"/><rect x="439.87" y="87.60" width="1.2" height="1.2"/><rect x="444.25" y="87.60" width="1.2" height="1.2"/><rect x="448.63" y="87.60" width="1.2" height="1.2"/><rect x="453.01" y="87.60" width="1.2" height="1.2"/><rect x="457.39" y="87.60" width="1.2" height="1.2"/><rect x="461.77" y="87.60" width="1.2" height="1.2"/><rect x="466.15" y="87.60" width="1.2" height="1.2"/><rect x="470.53" y="87.60" width="1.2" height="1.2"/><rect x="474.91" y="87.60" width="1.2" height="1.2"/><rect x="479.29" y="87.60" width="1.2" height="1.2"/><rect x="483.67" y="87.60" width="1.2" height="1.2"/><rect x="488.05" y="87.60" width="1.2" height="1.2"/><rect x="492.43" y="87.60" width="1.2" height="1.2"/><rect x="496.81" y="87.60" width="1.2" height="1.2"/><rect x="501.19" y="87.60" width="1.2" height="1.2"/><rect x="505.57" y="87.60" width="1.2" height="1.2"/><rect x="509.95" y="87.60" width="1.2" height="1.2"/><rect x="514.33" y="87.60" width="1.2" height="1.2"/><rect x="518.71" y="87.60" width="1.2" height="1.2"/><rect x="523.09" y="87.60" width="1.2" height="1.2"/><rect x="527.47" y="87.60" width="1.2" height="1.2"/><rect x="531.85" y="87.60" width="1.2" height="1.2"/><rect x="536.23" y="87.60" width="1.2" height="1.2"/><rect x="540.61" y="87.60" width="1.2" height="1.2"/><rect x="544.99" y="87.60" width="1.2" height="1.2"/><rect x="549.37" y="87.60" width="1.2" height="1.2"/><rect x="553.75" y="87.60" width="1.2" height="1.2"/><rect x="558.13" y="87.60" width="1.2" height="1.2"/><rect x="562.51" y="87.60" width="1.2" height="1.2"/><rect x="566.89" y="87.60" width="1.2" height="1.2"/><rect x="571.27" y="87.60" width="1.2" height="1.2"/><rect x="575.65" y="87.60" width="1.2" height="1.2"/><rect x="580.03" y="87.60" width="1.2" height="1.2"/><rect x="584.41" y="87.60" width="1.2" height="1.2"/><rect x="588.79" y="87.60" width="1.2" height="1.2"/><rect x="593.17" y="87.60" width="1.2" height="1.2"/><rect x="597.55" y="87.60" width="1.2" height="1.2"/><rect x="601.93" y="87.60" width="1.2" height="1.2"/><rect x="606.31" y="87.60" width="1.2" height="1.2"/><rect x="610.69" y="87.60" width="1.2" height="1.2"/><rect x="615.07" y="87.60" width="1.2" height="1.2"/><rect x="619.45" y="87.60" width="1.2" height="1.2"/><rect x="623.83" y="87.60" width="1.2" height="1.2"/><rect x="628.21" y="87.60" width="1.2" height="1.2"/><rect x="632.59" y="87.60" width="1.2" height="1.2"/><rect x="636.97" y="87.60" width="1.2" height="1.2"/><rect x="641.35" y="87.60" width="1.2" height="1.2"/><rect x="645.73" y="87.60" width="1.2" height="1.2"/><rect x="650.11" y="87.60" width="1.2" height="1.2"/><rect x="654.49" y="87.60" width="1.2" height="1.2"/><rect x="658.87" y="87.60" width="1.2" height="1.2"/><rect x="663.25" y="87.60" width="1.2" height="1.2"/><rect x="667.63" y="87.60" width="1.2" height="1.2"/><rect x="672.01" y="87.60" width="1.2" height="1.2"/><rect x="676.39" y="87.60" width="1.2" height="1.2"/><rect x="680.77" y="87.60" width="1.2" height="1.2"/><rect x="685.15" y="87.60" width="1.2" height="1.2"/><rect x="689.53" y="87.60" width="1.2" height="1.2"/><rect x="693.91" y="87.60" width="1.2" height="1.2"/><rect x="698.29" y="87.60" width="1.2" height="1.2"/><rect x="702.67" y="87.60" width="1.2" height="1.2"/><rect x="707.05" y="87.60" width="1.2" height="1.2"/><rect x="711.43" y="87.60" width="1.2" height="1.2"/><rect x="715.81" y="87.60" width="1.2" height="1.2"/><rect x="720.19" y="87.60" width="1.2" height="1.2"/><rect x="724.57" y="87.60" width="1.2" height="1.2"/><rect x="728.95" y="87.60" width="1.2" height="1.2"/><rect x="733.33" y="87.60" width="1.2" height="1.2"/><rect x="737.71" y="87.60" width="1.2" height="1.2"/><rect x="742.09" y="87.60" width="1.2" height="1.2"/><rect x="746.47" y="87.60" width="1.2" height="1.2"/><rect x="750.85" y="87.60" width="1.2" height="1.2"/><rect x="755.23" y="87.60" width="1.2" height="1.2"/><rect x="759.61" y="87.60" width="1.2" height="1.2"/><rect x="763.99" y="87.60" width="1.2" height="1.2"/><rect x="768.37" y="87.60" width="1.2" height="1.2"/><rect x="772.75" y="87.60" width="1.2" height="1.2"/><rect x="777.13" y="87.60" width="1.2" height="1.2"/><rect x="781.51" y="87.60" width="1.2" height="1.2"/><rect x="785.89" y="87.60" width="1.2" height="1.2"/></g>
<!-- watermark -->
<g transform="translate(631,217.3)" fill="none" stroke="#cfd6e4" stroke-width="2.3" stroke-linecap="round" stroke-linejoin="round">
<path d="M-8,7.2 C-5.5,2.5 -3.5,-4.2 -1.6,-4.2 C0.2,-4.2 -0.6,4.4 1.2,4.4 C3,4.4 3.8,-3.8 5.6,-3.8 C7.4,-3.8 6.6,4.6 8.8,4.6 C10.8,4.6 12.1,2.5 12.1,0 A12.1,12.1 0 1 0 8.6,9.2"/>
</g>
<text x="653.2" y="224.3" font-size="16.9" fill="#cfd6e4" stroke="#cfd6e4" stroke-width="0.75" stroke-linejoin="round" textLength="118.4" lengthAdjust="spacingAndGlyphs">CoinMarketCap</text>
<!-- lines -->
<path d="M9.6,86.0 L11.5,85.6 L16.4,81.2 L20.3,83.2 L24.1,81.0 L26.8,79.6 L29.6,80.4 L32.9,78.2 L33.7,77.4 L36.5,71.8 L39.3,69.0 L42.1,68.7 L46.2,71.8 L49.4,63.1 L51.6,65.7 L54.4,64.5 L57.8,69.6 L62.3,65.1 L66.2,59.5 L68.2,53.0 L72.0,66.5 L75.2,86.0 L76.6,89.4 L78.4,85.8 L79.5,88.4 L81.7,103.1 L84.7,101.6 L89.9,91.2 L92.9,90.4 L98.2,94.9 L100.4,94.2 L105.7,90.1 L108.7,93.4 L111.6,91.6 L113.1,87.4 L113.9,81.4 L117.6,76.9 L122.1,73.5 L128.1,76.9 L133.4,78.7 L135.6,72.2 L138.6,72.2 L144.1,86.7 L146.8,81.4 L154.3,73.9 L159.7,76.6 L165.0,81.1 L168.7,79.9 L171.0,80.7 L173.7,84.4 L178.4,80.7 L181.4,74.7 L184.1,74.3 L187.4,68.7 L190.4,68.3 L194.9,70.7 L197.9,71.0 L202.4,74.3 L206.1,80.7 L210.6,81.1 L215.9,82.6 L219.6,84.1 L223.4,86.7 L225.6,92.7 L227.8,95.2 L231.6,90.7 L235.3,92.7 L238.3,97.2 L243.6,90.2 L246.0,96.0 L249.0,102.4 L252.4,100.4 L255.0,106.3 L257.6,103.0 L260.0,107.0 L263.0,111.0 L265.5,124.9 L268.9,133.9 L273.5,144.3 L276.9,142.9 L279.5,139.9 L281.9,141.5 L284.5,147.9 L287.9,139.9 L291.5,134.3 L294.9,132.9 L298.3,128.9 L300.9,127.9 L304.9,123.9 L307.9,123.5 L311.5,122.3 L314.3,125.5 L316.8,124.9 L322.2,134.3 L324.8,133.5 L328.2,127.5 L330.8,128.3 L334.8,134.9 L338.7,143.6 L341.3,144.0 L344.0,134.9 L347.5,135.3 L351.8,133.5 L354.4,142.8 L357.0,141.0 L359.7,144.5 L363.2,151.5 L366.6,153.2 L370.1,153.2 L373.3,152.7 L376.2,148.9 L379.7,145.7 L382.0,145.0 L384.5,147.5 L386.7,138.7 L389.3,141.9 L392.0,141.5 L394.9,142.2 L398.4,138.4 L400.7,138.0 L403.3,139.8 L407.7,138.4 L411.2,133.5 L415.5,134.6 L421.6,133.2 L425.3,134.9 L428.4,133.7 L430.8,134.0 L435.7,139.3 L438.8,141.0 L442.3,144.0 L446.5,143.3 L449.3,131.4 L452.3,130.0 L454.9,130.0 L457.2,122.7 L460.1,127.6 L462.8,129.3 L465.7,132.6 L468.9,131.1 L473.2,131.1 L476.7,134.9 L480.7,138.0 L482.5,138.4 L484.9,135.8 L487.7,140.1 L490.7,141.0 L493.0,139.8 L495.9,141.4 L498.2,141.5 L502.0,146.2 L505.5,148.9 L508.1,147.5 L511.1,145.0 L514.0,148.7 L517.0,145.8 L521.3,146.7 L525.4,144.5 L529.2,146.2 L533.0,147.9 L537.0,146.2 L541.4,145.0 L544.9,143.2 L547.5,140.6 L551.9,139.7 L555.7,139.2 L560.3,142.0 L562.4,138.5 L565.5,138.9 L568.5,136.2 L571.1,134.5 L573.7,129.8 L576.3,135.0 L579.8,131.0 L583.3,129.8 L585.9,129.3 L590.3,123.2 L592.9,123.5 L595.5,121.4 L598.1,110.6 L600.7,114.4 L602.6,115.4 L604.9,115.4 L607.9,118.3 L609.6,118.3 L611.9,112.6 L614.0,112.6 L617.1,110.1 L620.9,111.9 L625.3,112.6 L627.9,117.1 L631.1,123.6 L634.0,125.8 L636.6,125.3 L638.4,122.7 L641.4,136.3 L644.0,135.8 L647.1,145.7 L649.7,149.7 L652.4,152.7 L655.0,161.1 L660.2,166.7 L663.2,159.3 L667.2,159.7 L671.2,160.2 L674.2,156.2 L676.4,159.7 L679.4,152.4 L682.9,153.2 L685.2,153.2 L688.1,157.2 L692.5,156.2 L695.6,166.8 L698.7,161.4 L703.6,154.1 L706.6,154.4 L709.2,156.5 L711.8,154.4 L714.4,160.5 L717.1,161.4 L721.4,157.0 L725.8,153.0 L728.0,143.6 L731.0,143.1 L734.0,147.8 L737.1,149.5 L739.7,150.6 L744.1,154.4 L749.3,161.1 L752.0,153.6 L757.2,169.8 L759.8,185.0 L762.9,182.4 L765.9,185.8 L768.2,171.0 L771.7,168.7 L773.8,169.3 L776.9,175.0 L779.4,175.0 L782.1,170.5 L788.6,184.4" fill="none" stroke="#16c784" stroke-width="2.3" stroke-linejoin="round" stroke-linecap="round" clip-path="url(#above)"/>
<path d="M9.6,86.0 L11.5,85.6 L16.4,81.2 L20.3,83.2 L24.1,81.0 L26.8,79.6 L29.6,80.4 L32.9,78.2 L33.7,77.4 L36.5,71.8 L39.3,69.0 L42.1,68.7 L46.2,71.8 L49.4,63.1 L51.6,65.7 L54.4,64.5 L57.8,69.6 L62.3,65.1 L66.2,59.5 L68.2,53.0 L72.0,66.5 L75.2,86.0 L76.6,89.4 L78.4,85.8 L79.5,88.4 L81.7,103.1 L84.7,101.6 L89.9,91.2 L92.9,90.4 L98.2,94.9 L100.4,94.2 L105.7,90.1 L108.7,93.4 L111.6,91.6 L113.1,87.4 L113.9,81.4 L117.6,76.9 L122.1,73.5 L128.1,76.9 L133.4,78.7 L135.6,72.2 L138.6,72.2 L144.1,86.7 L146.8,81.4 L154.3,73.9 L159.7,76.6 L165.0,81.1 L168.7,79.9 L171.0,80.7 L173.7,84.4 L178.4,80.7 L181.4,74.7 L184.1,74.3 L187.4,68.7 L190.4,68.3 L194.9,70.7 L197.9,71.0 L202.4,74.3 L206.1,80.7 L210.6,81.1 L215.9,82.6 L219.6,84.1 L223.4,86.7 L225.6,92.7 L227.8,95.2 L231.6,90.7 L235.3,92.7 L238.3,97.2 L243.6,90.2 L246.0,96.0 L249.0,102.4 L252.4,100.4 L255.0,106.3 L257.6,103.0 L260.0,107.0 L263.0,111.0 L265.5,124.9 L268.9,133.9 L273.5,144.3 L276.9,142.9 L279.5,139.9 L281.9,141.5 L284.5,147.9 L287.9,139.9 L291.5,134.3 L294.9,132.9 L298.3,128.9 L300.9,127.9 L304.9,123.9 L307.9,123.5 L311.5,122.3 L314.3,125.5 L316.8,124.9 L322.2,134.3 L324.8,133.5 L328.2,127.5 L330.8,128.3 L334.8,134.9 L338.7,143.6 L341.3,144.0 L344.0,134.9 L347.5,135.3 L351.8,133.5 L354.4,142.8 L357.0,141.0 L359.7,144.5 L363.2,151.5 L366.6,153.2 L370.1,153.2 L373.3,152.7 L376.2,148.9 L379.7,145.7 L382.0,145.0 L384.5,147.5 L386.7,138.7 L389.3,141.9 L392.0,141.5 L394.9,142.2 L398.4,138.4 L400.7,138.0 L403.3,139.8 L407.7,138.4 L411.2,133.5 L415.5,134.6 L421.6,133.2 L425.3,134.9 L428.4,133.7 L430.8,134.0 L435.7,139.3 L438.8,141.0 L442.3,144.0 L446.5,143.3 L449.3,131.4 L452.3,130.0 L454.9,130.0 L457.2,122.7 L460.1,127.6 L462.8,129.3 L465.7,132.6 L468.9,131.1 L473.2,131.1 L476.7,134.9 L480.7,138.0 L482.5,138.4 L484.9,135.8 L487.7,140.1 L490.7,141.0 L493.0,139.8 L495.9,141.4 L498.2,141.5 L502.0,146.2 L505.5,148.9 L508.1,147.5 L511.1,145.0 L514.0,148.7 L517.0,145.8 L521.3,146.7 L525.4,144.5 L529.2,146.2 L533.0,147.9 L537.0,146.2 L541.4,145.0 L544.9,143.2 L547.5,140.6 L551.9,139.7 L555.7,139.2 L560.3,142.0 L562.4,138.5 L565.5,138.9 L568.5,136.2 L571.1,134.5 L573.7,129.8 L576.3,135.0 L579.8,131.0 L583.3,129.8 L585.9,129.3 L590.3,123.2 L592.9,123.5 L595.5,121.4 L598.1,110.6 L600.7,114.4 L602.6,115.4 L604.9,115.4 L607.9,118.3 L609.6,118.3 L611.9,112.6 L614.0,112.6 L617.1,110.1 L620.9,111.9 L625.3,112.6 L627.9,117.1 L631.1,123.6 L634.0,125.8 L636.6,125.3 L638.4,122.7 L641.4,136.3 L644.0,135.8 L647.1,145.7 L649.7,149.7 L652.4,152.7 L655.0,161.1 L660.2,166.7 L663.2,159.3 L667.2,159.7 L671.2,160.2 L674.2,156.2 L676.4,159.7 L679.4,152.4 L682.9,153.2 L685.2,153.2 L688.1,157.2 L692.5,156.2 L695.6,166.8 L698.7,161.4 L703.6,154.1 L706.6,154.4 L709.2,156.5 L711.8,154.4 L714.4,160.5 L717.1,161.4 L721.4,157.0 L725.8,153.0 L728.0,143.6 L731.0,143.1 L734.0,147.8 L737.1,149.5 L739.7,150.6 L744.1,154.4 L749.3,161.1 L752.0,153.6 L757.2,169.8 L759.8,185.0 L762.9,182.4 L765.9,185.8 L768.2,171.0 L771.7,168.7 L773.8,169.3 L776.9,175.0 L779.4,175.0 L782.1,170.5 L788.6,184.4" fill="none" stroke="#ea3943" stroke-width="2.3" stroke-linejoin="round" stroke-linecap="round" clip-path="url(#below)"/>
<!-- left price label -->
<rect x="11" y="77.8" width="48" height="20.6" rx="4" fill="#fff" fill-opacity="0.9"/>
<text x="15.7" y="94.1" font-size="12.4" fill="#616e85" stroke="#616e85" stroke-width="0.2" textLength="38.9" lengthAdjust="spacingAndGlyphs">69.61K</text>
<!-- doc marker -->
<circle cx="530.4" cy="130" r="12.3" fill="#16c784" stroke="#e8fbf3" stroke-width="0.8"/>
<g fill="none" stroke="#fff" stroke-width="1.4" stroke-linejoin="round">
<path d="M525.9,123.9 L531.6,123.9 L535.4,127.7 L535.4,136 L525.9,136 Z"/>
<path d="M531.4,124.4 L531.4,128 L535,128" stroke-width="1.1"/>
<path d="M528,130.4 L533,130.4 M528,133.2 L533,133.2"/>
</g>
<!-- right axis labels -->
<g font-size="12.6" fill="#808a9d" stroke="#808a9d" stroke-width="0.2">
<text x="795.6" y="70.1" textLength="40.5" lengthAdjust="spacingAndGlyphs">70.00K</text>
<text x="795.6" y="125.8" textLength="40.8" lengthAdjust="spacingAndGlyphs">69.00K</text>
<text x="795.6" y="235.7" textLength="39.5" lengthAdjust="spacingAndGlyphs">67.00K</text>
</g>
<!-- current price -->
<path d="M788.6,170.4 L841,170.4 Q845,170.4 845,174.4 L845,193.9 Q845,197.9 841,197.9 L788.6,197.9 Z" fill="#ea3943"/>
<text x="795.7" y="188.7" font-size="12.6" fill="#fff" textLength="38.6" lengthAdjust="spacingAndGlyphs">67.86K</text>
<!-- time axis -->
<g font-size="12.6" fill="#808a9d" stroke="#808a9d" stroke-width="0.2">
<text x="9.6" y="292.6" textLength="47.0" lengthAdjust="spacingAndGlyphs">3:00 PM</text>
<text x="82.4" y="292.6" textLength="47.1" lengthAdjust="spacingAndGlyphs">6:00 PM</text>
<text x="179.9" y="292.6" textLength="47.0" lengthAdjust="spacingAndGlyphs">9:00 PM</text>
<text x="286" y="292.6" textLength="29.2" lengthAdjust="spacingAndGlyphs">7 Apr</text>
<text x="374.8" y="292.6" textLength="47.4" lengthAdjust="spacingAndGlyphs">3:00 AM</text>
<text x="471.8" y="292.6" textLength="47.6" lengthAdjust="spacingAndGlyphs">6:00 AM</text>
<text x="569.1" y="292.6" textLength="47.6" lengthAdjust="spacingAndGlyphs">9:00 AM</text>
<text x="663.1" y="292.6" textLength="53.6" lengthAdjust="spacingAndGlyphs">12:00 PM</text>
<text x="764.3" y="292.6" textLength="46.7" lengthAdjust="spacingAndGlyphs">3:00 PM</text>
</g>
<!-- 141 badge -->
<path d="M26,302.2 L49.6,302.2 A13,13 0 0 1 49.6,328.2 L26,328.2 C20,328.2 17.2,325.2 15.2,322.6 L9.6,316.2 Q8.8,315.2 9.6,314.2 L15.2,307.8 C17.2,305.2 20,302.2 26,302.2 Z" fill="#a6b0c3"/>
<g fill="none" stroke="#fff" stroke-width="1.45" stroke-linecap="round" stroke-linejoin="round">
<path d="M22.5,318.6 A5.4,5.4 0 1 0 22.1,311.7"/>
<path d="M26.3,311.6 L26.3,314.8 L28.9,316.6"/>
</g>
<path d="M19.3,312.3 L23,312.3 L20.8,315.2 Z" fill="#fff" stroke="#fff" stroke-width="0.6" stroke-linejoin="round"/>
<text x="36.6" y="320" font-size="12.8" fill="#fff" stroke="#fff" stroke-width="0.3" textLength="19.6" lengthAdjust="spacingAndGlyphs">141</text>
<!-- overview -->
<g fill="#ededee">
<rect x="8" y="331" width="781" height="1"/>
<rect x="8" y="374.6" width="781" height="1"/>
<rect x="80.2" y="331" width="1" height="44"/>
<rect x="179.3" y="331" width="1" height="44"/>
<rect x="278.5" y="331" width="1" height="44"/>
<rect x="377.6" y="331" width="1" height="44"/>
<rect x="476.6" y="331" width="1" height="44"/>
<rect x="576.0" y="331" width="1" height="44"/>
<rect x="675.5" y="331" width="1" height="44"/>
<rect x="774.7" y="331" width="1" height="44"/>
<rect x="788" y="331" width="1" height="44"/>
</g>
<path d="M8.0,374.6 L9.2,374.6 L10.4,374.6 L11.6,374.6 L12.8,374.6 L14.0,374.6 L15.2,374.6 L16.4,374.6 L17.6,374.6 L18.8,374.6 L20.0,374.6 L21.2,374.6 L22.4,374.6 L23.6,374.6 L24.8,374.6 L26.1,374.6 L27.3,374.6 L28.5,374.6 L29.7,374.6 L30.9,374.6 L32.1,374.6 L33.3,374.6 L34.5,374.6 L35.7,374.6 L36.9,374.6 L38.1,374.6 L39.3,374.6 L40.5,374.6 L41.7,374.6 L42.9,374.6 L44.1,374.6 L45.3,374.6 L46.5,374.6 L47.7,374.6 L48.9,374.6 L50.1,374.6 L51.3,374.6 L52.5,374.6 L53.7,374.6 L54.9,374.6 L56.1,374.6 L57.3,374.6 L58.5,374.6 L59.7,374.6 L60.9,374.6 L62.2,374.6 L63.4,374.6 L64.6,374.6 L65.8,374.6 L67.0,374.6 L68.2,374.6 L69.4,374.6 L70.6,374.6 L71.8,374.6 L73.0,374.6 L74.2,374.6 L75.4,374.6 L76.6,374.6 L77.8,374.6 L79.0,374.6 L80.2,374.5 L81.4,374.5 L82.6,374.5 L83.8,374.5 L85.0,374.5 L86.2,374.5 L87.4,374.5 L88.6,374.5 L89.8,374.5 L91.0,374.5 L92.2,374.5 L93.4,374.5 L94.6,374.5 L95.8,374.5 L97.1,374.5 L98.3,374.5 L99.5,374.5 L100.7,374.5 L101.9,374.5 L103.1,374.5 L104.3,374.5 L105.5,374.5 L106.7,374.5 L107.9,374.5 L109.1,374.5 L110.3,374.5 L111.5,374.5 L112.7,374.5 L113.9,374.5 L115.1,374.5 L116.3,374.5 L117.5,374.5 L118.7,374.5 L119.9,374.5 L121.1,374.5 L122.3,374.5 L123.5,374.5 L124.7,374.5 L125.9,374.5 L127.1,374.5 L128.3,374.5 L129.5,374.5 L130.7,374.5 L131.9,374.5 L133.2,374.5 L134.4,374.5 L135.6,374.5 L136.8,374.5 L138.0,374.5 L139.2,374.5 L140.4,374.5 L141.6,374.5 L142.8,374.5 L144.0,374.5 L145.2,374.5 L146.4,374.5 L147.6,374.5 L148.8,374.5 L150.0,374.5 L151.2,374.5 L152.4,374.5 L153.6,374.5 L154.8,374.5 L156.0,374.5 L157.2,374.5 L158.4,374.5 L159.6,374.5 L160.8,374.5 L162.0,374.5 L163.2,374.5 L164.4,374.5 L165.6,374.5 L166.8,374.5 L168.0,374.5 L169.2,374.5 L170.4,374.5 L171.6,374.5 L172.8,374.5 L174.0,374.5 L175.2,374.5 L176.4,374.5 L177.6,374.5 L178.8,374.5 L180.0,374.5 L181.2,374.5 L182.4,374.5 L183.6,374.5 L184.8,374.5 L186.0,374.5 L187.2,374.5 L188.4,374.4 L189.6,374.4 L190.8,374.4 L192.0,374.4 L193.2,374.4 L194.4,374.4 L195.6,374.4 L196.8,374.4 L198.0,374.4 L199.2,374.4 L200.4,374.4 L201.6,374.4 L202.8,374.4 L204.0,374.4 L205.2,374.4 L206.4,374.4 L207.6,374.4 L208.8,374.4 L210.0,374.4 L211.2,374.4 L212.4,374.4 L213.6,374.4 L214.8,374.4 L216.0,374.4 L217.2,374.4 L218.4,374.4 L219.6,374.4 L220.8,374.4 L222.0,374.4 L223.2,374.4 L224.4,374.4 L225.6,374.4 L226.8,374.4 L228.0,374.4 L229.2,374.4 L230.4,374.4 L231.6,374.4 L232.8,374.4 L234.0,374.4 L235.2,374.4 L236.4,374.4 L237.6,374.4 L238.8,374.4 L240.0,374.4 L241.2,374.4 L242.4,374.4 L243.6,374.4 L244.8,374.4 L246.0,374.4 L247.2,374.4 L248.4,374.4 L249.6,374.4 L250.8,374.4 L252.0,374.4 L253.2,374.4 L254.4,374.4 L255.6,374.4 L256.8,374.4 L258.0,374.4 L259.2,374.4 L260.4,374.4 L261.6,374.4 L262.8,374.3 L264.0,374.3 L265.2,374.3 L266.4,374.3 L267.6,374.3 L268.8,374.3 L270.0,374.3 L271.2,374.3 L272.4,374.3 L273.6,374.3 L274.8,374.3 L276.0,374.3 L277.2,374.3 L278.4,374.3 L279.6,374.3 L280.8,374.3 L282.0,374.3 L283.2,374.3 L284.4,374.3 L285.6,374.3 L286.8,374.3 L288.0,374.3 L289.2,374.3 L290.4,374.3 L291.6,374.3 L292.8,374.3 L294.0,374.3 L295.2,374.3 L296.4,374.3 L297.6,374.3 L298.8,374.3 L300.0,374.3 L301.2,374.3 L302.4,374.3 L303.7,374.3 L304.9,374.3 L306.1,374.3 L307.3,374.3 L308.5,374.3 L309.8,374.3 L311.0,374.3 L312.2,374.3 L313.4,374.3 L314.6,374.3 L315.9,374.3 L317.1,374.3 L318.3,374.3 L319.5,374.3 L320.7,374.3 L322.0,374.3 L323.2,374.3 L324.4,374.3 L325.6,374.2 L326.8,374.2 L328.0,374.2 L329.3,374.2 L330.5,374.2 L331.7,374.2 L332.9,374.2 L334.1,374.2 L335.4,374.2 L336.6,374.2 L337.8,374.2 L339.0,374.2 L340.2,374.2 L341.5,374.2 L342.7,374.2 L343.9,374.2 L345.1,374.2 L346.3,374.2 L347.6,374.2 L348.8,374.2 L350.0,374.2 L351.2,374.1 L352.5,374.1 L353.7,374.0 L355.0,374.0 L356.2,373.9 L357.4,373.8 L358.7,373.8 L359.9,373.7 L361.2,373.7 L362.4,373.6 L363.6,373.5 L364.9,373.5 L366.1,373.4 L367.4,373.4 L368.6,373.3 L370.0,373.0 L371.4,372.6 L372.8,372.3 L374.2,372.0 L375.9,370.8 L377.5,369.5 L379.1,370.4 L380.7,371.4 L382.0,371.6 L383.3,371.8 L384.6,371.9 L385.9,372.1 L387.2,372.3 L388.4,372.3 L389.7,372.4 L390.9,372.4 L392.2,372.5 L393.4,372.5 L394.7,372.6 L395.9,372.6 L397.2,372.7 L398.4,372.7 L399.6,372.8 L400.9,372.8 L402.1,372.9 L403.4,373.0 L404.6,373.1 L405.8,373.1 L407.1,373.2 L408.3,373.3 L409.5,373.3 L410.8,373.4 L412.0,373.5 L413.3,373.6 L414.5,373.6 L415.7,373.7 L417.0,373.8 L418.2,373.8 L419.4,373.9 L420.7,374.0 L421.9,374.1 L423.2,374.1 L424.4,374.2 L425.6,374.1 L426.9,374.1 L428.1,374.0 L429.4,374.0 L430.6,373.9 L431.8,373.8 L433.1,373.8 L434.3,373.7 L435.6,373.7 L436.8,373.6 L438.0,373.5 L439.3,373.5 L440.5,373.4 L441.8,373.4 L443.0,373.3 L444.2,373.1 L445.5,372.9 L446.7,372.7 L448.0,372.5 L449.2,372.2 L450.5,372.0 L451.7,371.8 L453.0,371.6 L454.2,371.4 L455.4,371.5 L456.7,371.6 L457.9,371.7 L459.1,371.8 L460.4,371.9 L461.6,372.0 L462.8,372.1 L464.1,372.2 L465.3,372.3 L466.5,372.4 L467.8,372.5 L469.0,372.6 L470.3,372.6 L471.5,372.7 L472.8,372.8 L474.0,372.9 L475.2,373.0 L476.5,373.1 L477.7,373.1 L479.0,373.2 L480.2,373.3 L481.4,373.2 L482.7,373.2 L483.9,373.1 L485.2,373.0 L486.4,373.0 L487.7,372.9 L488.9,372.8 L490.2,372.8 L491.4,372.7 L492.6,372.7 L493.9,372.7 L495.1,372.7 L496.3,372.8 L497.5,372.8 L498.8,372.8 L500.0,372.8 L501.2,372.7 L502.5,372.5 L503.7,372.2 L505.0,372.0 L506.2,371.7 L507.5,371.8 L508.7,371.6 L510.0,371.7 L511.2,371.6 L512.5,371.6 L513.7,371.6 L515.0,371.5 L516.2,371.3 L517.5,371.5 L518.8,370.8 L520.1,370.5 L521.4,370.4 L522.7,369.5 L524.1,368.4 L525.6,367.3 L527.0,367.0 L528.4,364.9 L529.7,363.4 L531.0,362.4 L532.3,359.0 L533.6,359.3 L534.9,358.0 L536.1,358.0 L537.3,358.0 L538.6,356.9 L539.8,357.1 L541.0,355.2 L542.5,357.3 L543.9,357.2 L545.4,358.0 L547.1,361.7 L548.9,363.3 L550.6,364.1 L552.4,363.6 L554.1,364.7 L555.9,363.1 L557.6,361.6 L559.4,359.7 L561.1,358.7 L562.4,360.4 L563.7,362.5 L565.0,359.7 L566.3,356.0 L568.0,354.8 L569.8,353.8 L571.5,355.7 L573.3,357.7 L575.0,358.1 L576.8,360.0 L578.5,361.9 L580.3,362.2 L581.6,362.7 L582.9,361.8 L584.2,362.6 L585.5,362.7 L587.2,361.7 L589.0,360.5 L590.8,361.8 L592.5,363.4 L594.2,364.6 L596.0,364.5 L597.8,366.0 L599.5,368.2 L600.8,368.3 L602.1,368.0 L603.4,368.0 L604.7,368.2 L606.1,367.8 L607.5,368.0 L608.9,368.0 L610.3,368.4 L611.7,368.3 L613.1,368.4 L614.5,368.9 L615.9,369.3 L617.3,369.0 L618.7,369.4 L620.0,369.4 L621.3,369.9 L622.6,370.0 L623.9,370.0 L625.2,369.4 L626.5,368.7 L627.8,368.5 L629.1,367.9 L630.4,367.5 L631.6,367.5 L632.9,367.2 L634.1,367.5 L635.4,366.7 L636.6,367.3 L637.9,366.6 L639.2,366.6 L640.5,366.4 L641.8,366.7 L643.1,366.6 L644.4,366.3 L645.6,366.1 L646.9,366.3 L648.2,366.4 L649.5,365.8 L650.7,366.1 L652.0,366.3 L653.4,366.0 L654.8,366.0 L656.2,366.3 L657.6,367.0 L659.0,367.2 L660.3,367.3 L661.6,367.1 L662.9,366.4 L664.2,366.3 L665.5,365.6 L666.8,364.7 L668.1,364.5 L669.4,364.0 L670.8,363.7 L672.2,362.3 L673.6,362.8 L675.0,361.5 L676.4,361.3 L678.1,361.3 L679.9,359.8 L681.2,358.0 L682.5,357.7 L683.8,354.3 L685.1,352.3 L686.4,353.0 L687.8,353.3 L689.1,351.6 L690.4,352.6 L691.7,353.0 L693.0,353.3 L694.3,352.7 L695.6,353.8 L697.0,354.9 L698.4,353.6 L699.8,354.2 L701.2,353.3 L702.6,353.8 L704.0,355.2 L705.4,354.2 L706.8,356.4 L708.2,356.8 L709.6,355.3 L710.9,356.8 L712.2,355.0 L713.5,355.5 L714.8,355.0 L716.5,350.8 L718.3,348.9 L720.0,347.1 L721.8,345.9 L723.5,342.8 L725.3,343.6 L726.6,344.7 L727.9,344.0 L729.2,343.8 L730.5,342.6 L731.8,345.1 L733.1,345.6 L734.5,348.0 L735.8,348.9 L737.2,348.2 L738.7,346.7 L740.1,348.0 L741.6,345.9 L743.0,342.1 L744.5,342.9 L745.9,341.3 L747.3,338.4 L748.7,341.1 L750.1,337.0 L751.5,337.1 L752.8,339.1 L754.1,338.7 L755.4,338.7 L756.7,339.3 L758.1,338.1 L759.5,337.0 L760.9,336.0 L762.3,335.1 L763.7,337.6 L765.5,339.5 L767.2,340.3 L768.5,343.8 L769.8,345.2 L771.2,345.4 L772.7,346.2 L774.1,348.3 L775.4,345.2 L776.8,346.4 L778.1,345.2 L779.4,346.6 L780.6,345.2 L781.9,345.1 L783.1,345.4 L784.4,345.8 L785.6,346.7 L786.9,345.2 L788.1,345.7 L788.1,375.2 L8,375.2 Z" fill="#edf0f4"/>
<!-- handle -->
<filter id="sh" x="-50%" y="-50%" width="200%" height="200%"><feDropShadow dx="0" dy="0.5" stdDeviation="1.2" flood-color="#000" flood-opacity="0.18"/></filter>
<rect x="780.4" y="342.6" width="14.3" height="20.6" rx="5" fill="#fff" filter="url(#sh)"/>
<rect x="785" y="349.2" width="1.3" height="7" fill="#a6b0c3"/>
<rect x="788.4" y="349.2" width="1.3" height="7" fill="#a6b0c3"/>
<g font-size="12.4" fill="#808a9d" stroke="#808a9d" stroke-width="0.2">
<text x="68.6" y="393.3" textLength="26.6" lengthAdjust="spacingAndGlyphs">2012</text>
<text x="167.2" y="393.3" textLength="26.8" lengthAdjust="spacingAndGlyphs">2014</text>
<text x="266.2" y="393.3" textLength="27.0" lengthAdjust="spacingAndGlyphs">2016</text>
<text x="365.8" y="393.3" textLength="27.0" lengthAdjust="spacingAndGlyphs">2018</text>
<text x="464.2" y="393.3" textLength="27.5" lengthAdjust="spacingAndGlyphs">2020</text>
<text x="563.4" y="393.3" textLength="27.6" lengthAdjust="spacingAndGlyphs">2022</text>
<text x="662.5" y="393.3" textLength="27.6" lengthAdjust="spacingAndGlyphs">2024</text>
<text x="761.6" y="393.3" textLength="28.0" lengthAdjust="spacingAndGlyphs">2026</text>
</g>
<!-- analyze button -->
<path d="M737,302.4 L740.2,298.6 Q741.2,297.6 742.2,298.6 L745.4,302.4 Z" fill="#3861fb"/>
<rect x="694.1" y="302.2" width="94.5" height="26.3" rx="13.15" fill="#3861fb"/>
<g fill="none" stroke="#fff" stroke-width="1.6" stroke-linecap="round" stroke-linejoin="round">
<path d="M706.1,317.2 C706.9,315.2 707.6,313.3 708.5,313.3 C709.5,313.3 709.3,317.1 710.2,317.1 C711.1,317.1 711.6,313.5 712.5,313.5 C713.5,313.5 713.2,317.4 714.4,317.4 C715.3,317.4 716,316.4 716,315.4 A6.5,6.5 0 1 0 703.3,317.4 C703.6,318.8 703.9,320.2 703.4,321.7 C705.5,321.9 708,321.9 709.6,321.7 C711.4,321.6 713,321.1 714.3,320.3"/>
</g>
<text x="721.3" y="320" font-size="12.8" fill="#fff" stroke="#fff" stroke-width="0.45" textLength="44.8" lengthAdjust="spacingAndGlyphs">Analyze</text>
<path d="M772.4,311.6 L776.6,315.7 L772.4,319.8" fill="none" stroke="#fff" stroke-width="1.5" stroke-linecap="round" stroke-linejoin="round"/>
</svg>
</body></html>
